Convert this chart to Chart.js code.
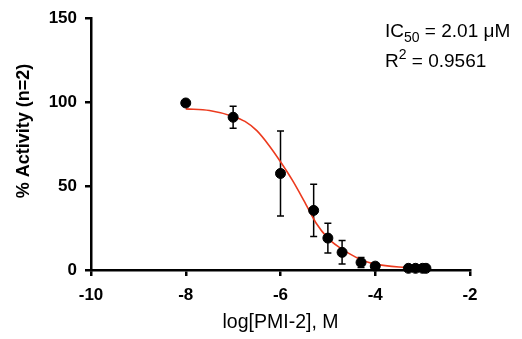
<!DOCTYPE html>
<html>
<head>
<meta charset="utf-8">
<script src="https://cdn.jsdelivr.net/npm/chart.js@4.4.1/dist/chart.umd.min.js"></script>
<style>
  html, body { margin: 0; padding: 0; background: #fff; }
  #wrap { width: 522px; height: 339px; position: relative; }
</style>
</head>
<body>
<div id="wrap"><canvas id="chart"></canvas></div>
<script>
// measured points, log[PMI-2] (M) vs % activity, mean and error
const doseLog = [-8, -7, -6, -5.3, -5, -4.7, -4.3, -4, -3.3, -3.15, -3.0, -2.93];
const activity = [99.5, 91, 57.5, 35.5, 19, 10.5, 4.5, 2.3, 1, 1, 1, 1];
const activityErr = [0, 6.5, 25.3, 15.6, 8.8, 7, 3, 0, 0, 0, 0, 0];

// fitted curve
const fitLog = [-8, -7.5, -7, -6.75, -6.5, -6.25, -6, -5.75, -5.5, -5.25, -5, -4.75, -4.5, -4.25, -4, -3.5, -3, -2.93];
const fitActivity = [96, 95, 91.5, 88.5, 83, 74.5, 64.5, 53.5, 41, 28, 19, 13.3, 9, 5.5, 3.5, 1.8, 1.3, 1.3];

const xTicks = [-10, -8, -6, -4, -2];
const yTicks = [0, 50, 100, 150];

const FONT = '"Liberation Sans", Arial, Helvetica, sans-serif';

const errorBars = {
  id: 'errorBars',
  beforeDatasetsDraw(chart) {
    const x = chart.scales.x, y = chart.scales.y, ctx = chart.ctx;
    ctx.save();
    ctx.strokeStyle = '#000';
    ctx.lineWidth = 1.5;
    doseLog.forEach(function (d, i) {
      if (!activityErr[i]) return;
      const px = x.getPixelForValue(d);
      const top = y.getPixelForValue(activity[i] + activityErr[i]);
      const bot = y.getPixelForValue(Math.max(0, activity[i] - activityErr[i]));
      ctx.beginPath();
      ctx.moveTo(px, top); ctx.lineTo(px, bot);
      ctx.moveTo(px - 3.5, top); ctx.lineTo(px + 3.5, top);
      ctx.moveTo(px - 3.5, bot); ctx.lineTo(px + 3.5, bot);
      ctx.stroke();
    });
    ctx.restore();
  }
};

// y title sits a bit above the plot centre in the original, so place it by hand
const textLabels = {
  id: 'textLabels',
  afterDraw(chart) {
    const ctx = chart.ctx;
    ctx.save();
    ctx.fillStyle = '#000';

    ctx.save();
    ctx.translate(24, 131);
    ctx.rotate(-Math.PI / 2);
    ctx.textAlign = 'center';
    ctx.textBaseline = 'middle';
    ctx.font = 'bold 18px ' + FONT;
    ctx.fillText('% Activity (n=2)', 0, 0);
    ctx.restore();

    ctx.textBaseline = 'alphabetic';
    let x = 385;
    ctx.font = '19px ' + FONT;
    ctx.fillText('IC', x, 37);
    x += ctx.measureText('IC').width;
    ctx.font = '14px ' + FONT;
    ctx.fillText('50', x, 42);
    x += ctx.measureText('50').width;
    ctx.font = '19px ' + FONT;
    ctx.fillText(' = 2.01 \u03BCM', x, 37);

    x = 385;
    ctx.fillText('R', x, 67);
    x += ctx.measureText('R').width;
    ctx.font = '14px ' + FONT;
    ctx.fillText('2', x, 59);
    x += ctx.measureText('2').width;
    ctx.font = '19px ' + FONT;
    ctx.fillText(' = 0.9561', x, 67);
    ctx.restore();
  }
};

new Chart(document.getElementById('chart'), {
  type: 'scatter',
  data: {
    datasets: [
      {
        label: 'fit',
        data: fitLog.map(function (v, i) { return { x: v, y: fitActivity[i] }; }),
        showLine: true,
        borderColor: '#ec3a1e',
        borderWidth: 1.6,
        pointRadius: 0,
        cubicInterpolationMode: 'monotone',
        order: 2
      },
      {
        label: 'PMI-2',
        data: doseLog.map(function (v, i) { return { x: v, y: activity[i] }; }),
        backgroundColor: '#000',
        borderColor: '#000',
        pointRadius: 5,
        pointHoverRadius: 5,
        order: 1
      }
    ]
  },
  options: {
    responsive: true,
    maintainAspectRatio: false,
    animation: false,
    events: [],
    clip: false,
    layout: { padding: { left: 0, right: 52, top: 14, bottom: 0 } },
    plugins: { legend: { display: false }, tooltip: { enabled: false } },
    scales: {
      x: {
        type: 'linear',
        min: -10, max: -2,
        afterBuildTicks(axis) { axis.ticks = xTicks.map(function (v) { return { value: v }; }); },
        afterFit(axis) { axis.height = 69; },
        border: { display: true, color: '#000', width: 2.5 },
        grid: { drawOnChartArea: false, drawTicks: true, tickLength: 6, color: '#000', lineWidth: 2.5 },
        ticks: { color: '#000', padding: 9, font: { family: FONT, size: 17, weight: 'bold' } },
        title: { display: true, text: 'log[PMI-2], M', color: '#000', padding: { top: 0, bottom: 5 }, font: { family: FONT, size: 19.5 } }
      },
      y: {
        type: 'linear',
        min: 0, max: 150,
        afterBuildTicks(axis) { axis.ticks = yTicks.map(function (v) { return { value: v }; }); },
        afterFit(axis) { axis.width = 91; },
        border: { display: true, color: '#000', width: 2.5 },
        grid: { drawOnChartArea: false, drawTicks: true, tickLength: 6, color: '#000', lineWidth: 2.5 },
        ticks: { color: '#000', padding: 8, font: { family: FONT, size: 17, weight: 'bold' } }
      }
    }
  },
  plugins: [errorBars, textLabels]
});
</script>
</body>
</html>
